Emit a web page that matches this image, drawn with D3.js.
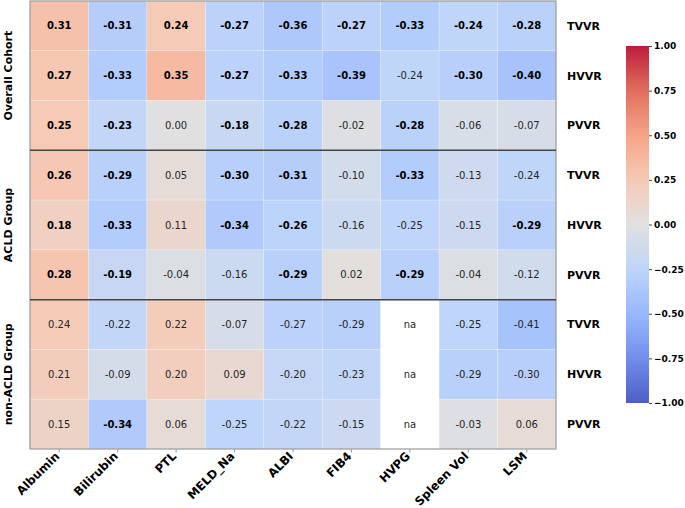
<!DOCTYPE html>
<html>
<head>
<meta charset="utf-8">
<script src="https://cdn.jsdelivr.net/npm/d3@7"></script>
<style>
  body { margin: 0; background: #fff; }
  svg { font-family: "DejaVu Sans", sans-serif; }
</style>
</head>
<body>
<div id="chart"></div>
<script>
const columns = ['Albumin', 'Bilirubin', 'PTL', 'MELD_Na', 'ALBI', 'FIB4', 'HVPG', 'Spleen Vol', 'LSM'];
const measures = ['TVVR', 'HVVR', 'PVVR'];
const groups = ['Overall Cohort', 'ACLD Group', 'non-ACLD Group'];

// one row per group x measure, null = not available
const values = [
    [0.31, -0.31, 0.24, -0.27, -0.36, -0.27, -0.33, -0.24, -0.28],
    [0.27, -0.33, 0.35, -0.27, -0.33, -0.39, -0.24, -0.30, -0.40],
    [0.25, -0.23, 0.00, -0.18, -0.28, -0.02, -0.28, -0.06, -0.07],
    [0.26, -0.29, 0.05, -0.30, -0.31, -0.10, -0.33, -0.13, -0.24],
    [0.18, -0.33, 0.11, -0.34, -0.26, -0.16, -0.25, -0.15, -0.29],
    [0.28, -0.19, -0.04, -0.16, -0.29, 0.02, -0.29, -0.04, -0.12],
    [0.24, -0.22, 0.22, -0.07, -0.27, -0.29, null, -0.25, -0.41],
    [0.21, -0.09, 0.20, 0.09, -0.20, -0.23, null, -0.29, -0.30],
    [0.15, -0.34, 0.06, -0.25, -0.22, -0.15, null, -0.03, 0.06]
];

// 1 = significant (bold)
const significant = [
    [1, 1, 1, 1, 1, 1, 1, 1, 1],
    [1, 1, 1, 1, 1, 1, 0, 1, 1],
    [1, 1, 0, 1, 1, 0, 1, 0, 0],
    [1, 1, 0, 1, 1, 0, 1, 0, 0],
    [1, 1, 0, 1, 1, 0, 0, 0, 1],
    [1, 1, 0, 0, 1, 0, 1, 0, 0],
    [0, 0, 0, 0, 0, 0, 0, 0, 0],
    [0, 0, 0, 0, 0, 0, 0, 0, 0],
    [0, 1, 0, 0, 0, 0, 0, 0, 0]
];

const colorTicks = [1, 0.75, 0.5, 0.25, 0, -0.25, -0.5, -0.75, -1];

// matplotlib coolwarm
const coolwarmStops = ['#3b4cc0', '#6282ea', '#8db0fe', '#b8d0f9', '#dddddd', '#f5c4ad', '#f49a7b', '#de604d', '#b40426'];
const color = d3.scaleLinear()
    .domain(d3.range(9).map(i => -1 + i * 0.25))
    .range(coolwarmStops)
    .interpolate(d3.interpolateRgb)
    .clamp(true);
const ALPHA = 0.9;

const W = 685, H = 508;
const margin = { left: 30, top: 1, right: 129, bottom: 59 };
const width = W - margin.left - margin.right;
const height = H - margin.top - margin.bottom;

const rowLabels = d3.range(values.length);

const x = d3.scaleBand().domain(columns).range([0, width]);
const y = d3.scaleBand().domain(rowLabels).range([0, height]);

const svg = d3.select('#chart').append('svg')
    .attr('width', W).attr('height', H);

const g = svg.append('g').attr('transform', `translate(${margin.left},${margin.top})`);

const cells = [];
values.forEach((row, i) => row.forEach((v, j) => {
    cells.push({ r: i, c: columns[j], v, bold: significant[i][j] === 1 });
}));

g.selectAll('.cell')
    .data(cells)
    .enter().append('rect')
    .attr('class', 'cell')
    .attr('x', d => x(d.c))
    .attr('y', d => y(d.r))
    .attr('width', x.bandwidth())
    .attr('height', y.bandwidth())
    .attr('fill', d => d.v === null ? '#ffffff' : color(d.v))
    .attr('fill-opacity', ALPHA)
    .attr('stroke', 'rgba(255,255,255,0.35)')
    .attr('stroke-width', 0.6);

g.selectAll('.val')
    .data(cells)
    .enter().append('text')
    .attr('class', 'val')
    .attr('x', d => x(d.c) + x.bandwidth() / 2)
    .attr('y', d => y(d.r) + y.bandwidth() / 2)
    .attr('dy', '0.35em')
    .attr('text-anchor', 'middle')
    .style('font-size', '10px')
    .style('font-weight', d => d.bold ? 'bold' : 'normal')
    .attr('fill', d => d.bold ? '#000' : '#262626')
    .text(d => d.v === null ? 'na' : d.v.toFixed(2));

// outer frame
g.append('rect')
    .attr('width', width).attr('height', height)
    .attr('fill', 'none').attr('stroke', '#999').attr('stroke-width', 1.2);

// group separators
[3, 6].forEach(i => {
    g.append('line')
        .attr('x1', 0).attr('x2', width)
        .attr('y1', y(i)).attr('y2', y(i))
        .attr('stroke', '#444').attr('stroke-width', 1.5);
});

// bottom axis
const xAxis = g.append('g')
    .attr('transform', `translate(0,${height})`)
    .call(d3.axisBottom(x).tickSize(3.5).tickPadding(0));
xAxis.select('.domain').remove();
xAxis.selectAll('line').attr('stroke', '#999');
xAxis.selectAll('text')
    .attr('x', 0).attr('y', 0)
    .attr('text-anchor', 'end')
    .attr('dy', '0.35em')
    .attr('transform', 'translate(-2,5) rotate(-45)')
    .style('font-size', '11.8px')
    .style('font-weight', 'bold')
    .style('font-family', '"DejaVu Sans", sans-serif')
    .attr('fill', '#000');

// right row labels
g.selectAll('.rlab')
    .data(rowLabels)
    .enter().append('text')
    .attr('x', width + 11)
    .attr('y', d => y(d) + y.bandwidth() / 2)
    .attr('dy', '0.35em')
    .style('font-size', '11px')
    .style('font-weight', 'bold')
    .text(d => measures[d % 3]);

// left group labels
groups.forEach((name, i) => {
    const cy = y(i * 3) + y.bandwidth() * 1.5;
    g.append('text')
        .attr('transform', `translate(${-18},${cy}) rotate(-90)`)
        .attr('text-anchor', 'middle')
        .style('font-size', '11px')
        .style('font-weight', 'bold')
        .text(name);
});

// colour bar
const cb = { x: 626, y: 46, w: 23, h: 357 };
const defs = svg.append('defs');
const grad = defs.append('linearGradient')
    .attr('id', 'cbgrad')
    .attr('x1', 0).attr('y1', 1).attr('x2', 0).attr('y2', 0);
d3.range(0, 1.0001, 0.05).forEach(t => {
    grad.append('stop')
        .attr('offset', t)
        .attr('stop-color', color(-1 + 2 * t));
});
svg.append('rect')
    .attr('x', cb.x).attr('y', cb.y)
    .attr('width', cb.w).attr('height', cb.h)
    .attr('fill', 'url(#cbgrad)')
    .attr('fill-opacity', ALPHA);

const cy = d3.scaleLinear().domain([-1, 1]).range([cb.y + cb.h, cb.y]);
const cAxis = svg.append('g')
    .attr('transform', `translate(${cb.x + cb.w},0)`)
    .call(d3.axisRight(cy).tickValues(colorTicks).tickSize(3).tickPadding(2)
        .tickFormat(d => d3.format('.2f')(d)));
cAxis.select('.domain').remove();
cAxis.selectAll('line').attr('stroke', '#444');
cAxis.selectAll('text')
    .style('font-size', '9px')
    .style('font-weight', 'bold')
    .style('font-family', '"DejaVu Sans", sans-serif')
    .attr('fill', '#000');
</script>
</body>
</html>
